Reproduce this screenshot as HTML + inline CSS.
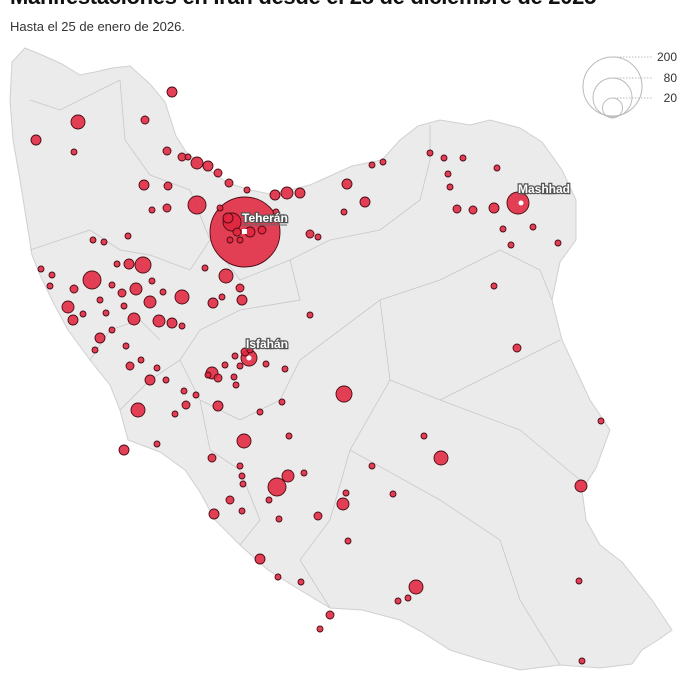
<!DOCTYPE html>
<html><head><meta charset="utf-8"><style>
body{margin:0;width:688px;height:688px;background:#fff;overflow:hidden;font-family:"Liberation Sans",sans-serif;}
.t{position:absolute;left:10px;top:-16px;font-size:22px;font-weight:bold;color:#111;white-space:nowrap;letter-spacing:-0.3px}
.s{position:absolute;left:10px;top:19px;font-size:13px;color:#333}
svg{position:absolute;left:0;top:0}
</style></head><body>
<div class="t">Manifestaciones en Irán desde el 28 de diciembre de 2025</div>
<div class="s">Hasta el 25 de enero de 2026.</div>
<svg width="688" height="688">
<path d="M25,48 L12,62 L10,100 L13,140 L20,180 L28,230 L32,255 L40,275 L52,300 L68,330 L90,360 L110,385 L120,410 L128,440 L160,452 L185,470 L200,492 L215,520 L240,545 L268,570 L300,590 L330,608 L362,610 L400,620 L422,632 L450,650 L482,660 L520,670 L560,665 L600,668 L632,664 L642,650 L658,640 L672,630 L652,600 L622,562 L600,545 L586,520 L582,490 L596,468 L610,430 L590,400 L562,340 L552,300 L560,262 L576,240 L576,200 L562,170 L542,142 L520,128 L490,120 L470,125 L440,120 L418,126 L400,140 L382,160 L352,166 L330,176 L310,185 L290,190 L270,194 L250,190 L228,183 L206,168 L186,152 L176,136 L165,102 L150,84 L130,66 L112,68 L95,72 L80,75 L62,64 L42,55 Z" fill="#ebebeb" stroke="#d0d0d0" stroke-width="1"/>
<g fill="none" stroke="#c8c8c8" stroke-width="0.8">
<path d="M30,100 L60,110 L90,95 L120,80 M120,80 L125,140 L150,175 L190,190 L210,240 L190,270 L150,255 L120,250 L90,230 L60,240 L30,250"/>
<path d="M210,240 L240,280 L290,260 L330,240 L380,230 L420,200 L430,160 L430,125"/>
<path d="M290,260 L300,300 L240,310 L200,330 L180,360 L200,400 L240,420 L280,400 L300,360 L380,300 L440,280 L500,250 L540,270 L552,300"/>
<path d="M380,300 L390,380 L440,400 L480,380 L560,340 M390,380 L350,450 L330,520 L300,560 L330,608 M440,400 L520,430 L580,480 M350,450 L440,500 L500,540 L520,600 L560,665"/>
<path d="M120,410 L150,380 L180,360 M200,400 L210,450 L240,470 L260,520 L240,545 M90,360 L110,330 L140,320 L160,340"/>
</g>
<g fill="#e0263f" fill-opacity="0.88" stroke="#4a0c14" stroke-width="0.9">
<circle cx="245" cy="232" r="35"/>
<circle cx="518" cy="203" r="11"/>
<circle cx="78" cy="122" r="7"/><circle cx="36" cy="140" r="5"/><circle cx="74" cy="152" r="3"/><circle cx="145" cy="120" r="4"/><circle cx="172" cy="92" r="5"/>
<circle cx="167" cy="151" r="4"/><circle cx="182" cy="157" r="4"/><circle cx="197" cy="163" r="6"/><circle cx="208" cy="166" r="5"/><circle cx="218" cy="173" r="4"/><circle cx="229" cy="183" r="4"/><circle cx="247" cy="190" r="3"/><circle cx="188" cy="157" r="3"/>
<circle cx="275" cy="195" r="5"/><circle cx="287" cy="193" r="6"/><circle cx="300" cy="193" r="5"/><circle cx="276" cy="212" r="3"/><circle cx="310" cy="234" r="4"/><circle cx="318" cy="237" r="3"/><circle cx="347" cy="184" r="5"/><circle cx="344" cy="212" r="3"/><circle cx="365" cy="202" r="5"/><circle cx="372" cy="165" r="3"/><circle cx="383" cy="162" r="3"/>
<circle cx="430" cy="153" r="3"/><circle cx="444" cy="158" r="3"/><circle cx="463" cy="158" r="3"/><circle cx="448" cy="174" r="3"/><circle cx="450" cy="187" r="3"/><circle cx="457" cy="209" r="4"/><circle cx="473" cy="210" r="4"/><circle cx="494" cy="208" r="5"/><circle cx="497" cy="168" r="3"/><circle cx="503" cy="229" r="3"/><circle cx="511" cy="245" r="3"/><circle cx="558" cy="243" r="3"/><circle cx="533" cy="227" r="3"/><circle cx="494" cy="286" r="3"/><circle cx="517" cy="348" r="4"/>
<circle cx="144" cy="185" r="5"/><circle cx="168" cy="186" r="4"/><circle cx="197" cy="205" r="9"/><circle cx="167" cy="208" r="4"/><circle cx="152" cy="210" r="3"/><circle cx="128" cy="236" r="3"/><circle cx="93" cy="240" r="3"/><circle cx="104" cy="242" r="3"/><circle cx="143" cy="265" r="8"/><circle cx="129" cy="264" r="5"/><circle cx="117" cy="264" r="3"/><circle cx="92" cy="280" r="9"/><circle cx="41" cy="269" r="3"/><circle cx="52" cy="275" r="3"/><circle cx="50" cy="286" r="3"/><circle cx="74" cy="289" r="4"/><circle cx="112" cy="285" r="3"/><circle cx="136" cy="289" r="6"/><circle cx="152" cy="281" r="3"/><circle cx="163" cy="292" r="3"/><circle cx="182" cy="297" r="7"/><circle cx="150" cy="302" r="6"/><circle cx="122" cy="293" r="4"/><circle cx="124" cy="306" r="3"/><circle cx="100" cy="300" r="3"/><circle cx="68" cy="307" r="6"/><circle cx="73" cy="320" r="5"/><circle cx="83" cy="314" r="3"/><circle cx="134" cy="319" r="6"/><circle cx="159" cy="321" r="6"/><circle cx="172" cy="323" r="5"/><circle cx="182" cy="326" r="3"/><circle cx="106" cy="313" r="3"/><circle cx="213" cy="303" r="5"/><circle cx="222" cy="297" r="3"/><circle cx="240" cy="288" r="4"/><circle cx="242" cy="300" r="5"/><circle cx="205" cy="268" r="3"/><circle cx="226" cy="276" r="7"/>
<circle cx="249" cy="358" r="8"/><circle cx="245" cy="352" r="4"/><circle cx="235" cy="356" r="3"/><circle cx="240" cy="366" r="3"/><circle cx="250" cy="350" r="3"/><circle cx="212" cy="373" r="6"/><circle cx="218" cy="378" r="4"/><circle cx="208" cy="375" r="3"/><circle cx="225" cy="365" r="3"/><circle cx="236" cy="385" r="3"/><circle cx="266" cy="364" r="3"/><circle cx="285" cy="369" r="3"/><circle cx="310" cy="315" r="3"/>
<circle cx="100" cy="338" r="5"/><circle cx="112" cy="330" r="3"/><circle cx="95" cy="350" r="3"/><circle cx="126" cy="346" r="3"/><circle cx="141" cy="360" r="3"/><circle cx="130" cy="366" r="4"/><circle cx="157" cy="368" r="3"/><circle cx="166" cy="380" r="3"/><circle cx="150" cy="380" r="5"/><circle cx="138" cy="410" r="7"/><circle cx="184" cy="391" r="3"/><circle cx="196" cy="395" r="3"/><circle cx="186" cy="405" r="4"/><circle cx="175" cy="414" r="3"/><circle cx="218" cy="406" r="5"/><circle cx="234" cy="377" r="3"/><circle cx="260" cy="412" r="3"/><circle cx="282" cy="402" r="3"/><circle cx="344" cy="394" r="8"/><circle cx="289" cy="436" r="3"/><circle cx="244" cy="441" r="7"/><circle cx="157" cy="444" r="3"/><circle cx="124" cy="450" r="5"/><circle cx="212" cy="458" r="4"/><circle cx="240" cy="466" r="3"/><circle cx="242" cy="476" r="3"/><circle cx="243" cy="484" r="3"/><circle cx="288" cy="476" r="6"/><circle cx="304" cy="473" r="3"/><circle cx="277" cy="487" r="9"/><circle cx="230" cy="500" r="4"/><circle cx="242" cy="511" r="3"/><circle cx="269" cy="500" r="3"/><circle cx="214" cy="514" r="5"/><circle cx="279" cy="519" r="3"/><circle cx="318" cy="516" r="4"/><circle cx="343" cy="504" r="6"/><circle cx="346" cy="493" r="3"/><circle cx="393" cy="494" r="3"/><circle cx="372" cy="466" r="3"/><circle cx="424" cy="436" r="3"/><circle cx="441" cy="458" r="7"/><circle cx="581" cy="486" r="6"/><circle cx="601" cy="421" r="3"/><circle cx="348" cy="541" r="3"/><circle cx="260" cy="559" r="5"/><circle cx="278" cy="577" r="3"/><circle cx="301" cy="582" r="3"/><circle cx="416" cy="587" r="7"/><circle cx="408" cy="598" r="3"/><circle cx="398" cy="601" r="3"/><circle cx="330" cy="615" r="4"/><circle cx="320" cy="629" r="3"/><circle cx="579" cy="581" r="3"/><circle cx="582" cy="661" r="3"/>
<circle cx="232" cy="222" r="9"/><circle cx="228" cy="218" r="5"/><circle cx="237" cy="232" r="4"/><circle cx="250" cy="232" r="5"/><circle cx="230" cy="240" r="3"/><circle cx="240" cy="240" r="3"/><circle cx="262" cy="230" r="4"/><circle cx="220" cy="208" r="3"/>
</g>
<rect x="242" y="229" width="5" height="5" fill="#fff"/>
<circle cx="521" cy="203" r="2.5" fill="#fff"/>
<circle cx="249" cy="358" r="2.5" fill="#fff"/>
<g font-size="12" font-weight="bold" fill="#fff" stroke="#555" stroke-width="2.5" paint-order="stroke">
<text x="242" y="222">Teherán</text><text x="518" y="193">Mashhad</text><text x="246" y="348">Isfahán</text>
</g>
<line x1="242" y1="225" x2="287" y2="225" stroke="#666" stroke-width="1"/>
<g fill="none" stroke="#bbb" stroke-width="1">
<circle cx="612.5" cy="86.5" r="29.5"/><circle cx="612.5" cy="97.5" r="19.5"/><circle cx="612.5" cy="108" r="10"/>
<g stroke-dasharray="1.5 1.5"><line x1="614" y1="57" x2="652" y2="57"/><line x1="614" y1="78" x2="652" y2="78"/><line x1="614" y1="98" x2="652" y2="98"/></g>
</g>
<g font-size="12" fill="#333" text-anchor="end"><text x="677" y="61">200</text><text x="677" y="82">80</text><text x="677" y="102">20</text></g>
</svg>
</body></html>
